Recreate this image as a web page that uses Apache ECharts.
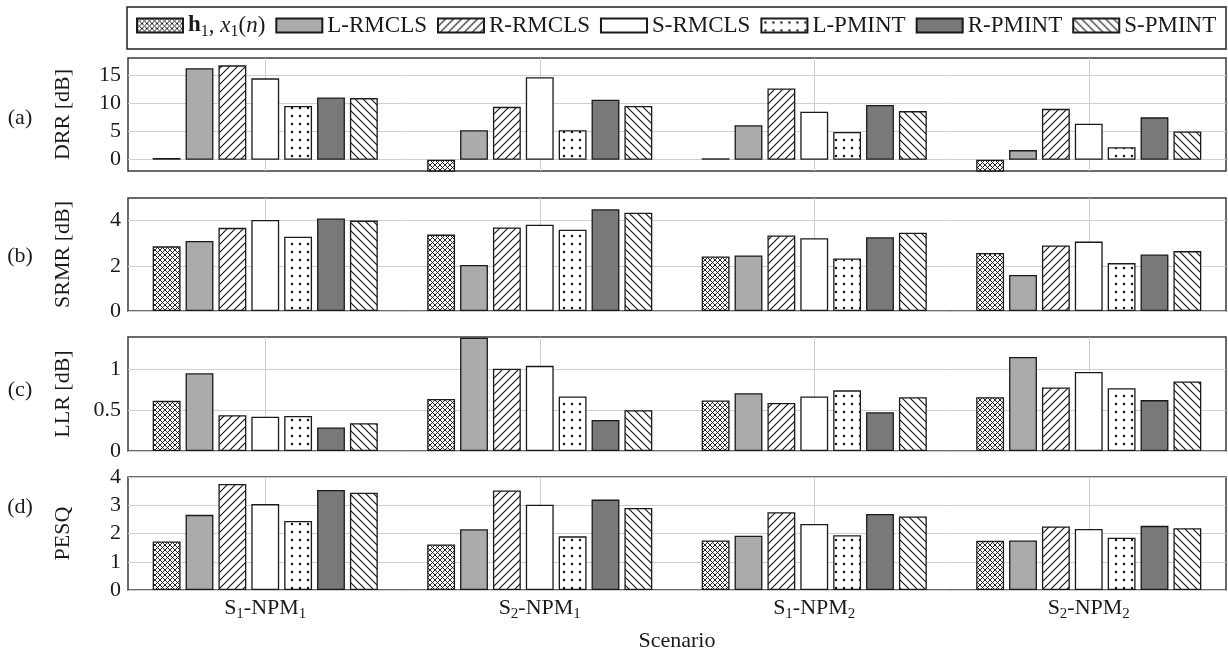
<!DOCTYPE html>
<html>
<head>
<meta charset="utf-8">
<script src="https://cdn.jsdelivr.net/npm/echarts@6/dist/echarts.min.js"></script>
<style>
  html, body { margin: 0; padding: 0; background: #fff; }
  #chart { width: 1228px; height: 656px; }
</style>
</head>
<body>
<div id="chart"></div>
<script>
// categories / methods
var categories = ['S1-NPM1', 'S2-NPM1', 'S1-NPM2', 'S2-NPM2'];
var methods = ['h1x1n', 'L-RMCLS', 'R-RMCLS', 'S-RMCLS', 'L-PMINT', 'R-PMINT', 'S-PMINT'];

// one row per method, one column per scenario
var drrValues = [
  [0.3, -2.4, 0.25, -2.4],
  [16.2, 5.2, 6.1, 1.7],
  [16.7, 9.35, 12.6, 9.0],
  [14.4, 14.6, 8.5, 6.35],
  [9.5, 5.2, 4.9, 2.2],
  [11.0, 10.6, 9.7, 7.5],
  [10.9, 9.5, 8.6, 5.0]
];
var srmrValues = [
  [2.86, 3.38, 2.41, 2.57],
  [3.1, 2.04, 2.46, 1.59],
  [3.68, 3.7, 3.34, 2.9],
  [4.03, 3.82, 3.22, 3.07],
  [3.29, 3.6, 2.32, 2.12],
  [4.09, 4.5, 3.26, 2.5],
  [4.0, 4.35, 3.46, 2.65]
];
var llrValues = [
  [0.616, 0.64, 0.62, 0.66],
  [0.955, 1.39, 0.71, 1.154],
  [0.44, 1.01, 0.59, 0.78],
  [0.42, 1.046, 0.67, 0.97],
  [0.43, 0.67, 0.745, 0.77],
  [0.29, 0.38, 0.475, 0.625],
  [0.34, 0.5, 0.66, 0.854]
];
var pesqValues = [
  [1.72, 1.61, 1.75, 1.74],
  [2.66, 2.15, 1.92, 1.75],
  [3.75, 3.52, 2.75, 2.25],
  [3.04, 3.02, 2.34, 2.16],
  [2.44, 1.9, 1.94, 1.85],
  [3.54, 3.2, 2.69, 2.27],
  [3.44, 2.9, 2.6, 2.19]
];

var panelNames = ['DRR [dB]', 'SRMR [dB]', 'LLR [dB]', 'PESQ'];
var panelTags = ['(a)', '(b)', '(c)', '(d)'];
var yTicks = [[0, 5, 10, 15], [0, 2, 4], [0, 0.5, 1], [0, 1, 2, 3, 4]];
var yRanges = [[-2, 18], [0, 5], [0, 1.4], [0, 4]];
var panelData = [drrValues, srmrValues, llrValues, pesqValues];

var FONT = 'Liberation Serif';
var INK = '#1a1a1a';

// hatch patterns (pgfplots style)
function makePattern(kind, bg) {
  var size = kind == 'cross' ? 5 : 8;
  var c = document.createElement('canvas');
  c.width = size; c.height = size;
  var ctx = c.getContext('2d');
  ctx.fillStyle = bg || '#fff';
  ctx.fillRect(0, 0, size, size);
  ctx.strokeStyle = '#111';
  ctx.fillStyle = '#111';
  ctx.lineWidth = kind == 'cross' ? 0.9 : 1.1;
  ctx.beginPath();
  if (kind == 'ne' || kind == 'cross') {
    ctx.moveTo(0, size); ctx.lineTo(size, 0);
    ctx.moveTo(-1, 1); ctx.lineTo(1, -1);
    ctx.moveTo(size - 1, size + 1); ctx.lineTo(size + 1, size - 1);
  }
  if (kind == 'nw' || kind == 'cross') {
    ctx.moveTo(0, 0); ctx.lineTo(size, size);
    ctx.moveTo(-1, size - 1); ctx.lineTo(1, size + 1);
    ctx.moveTo(size - 1, -1); ctx.lineTo(size + 1, 1);
  }
  ctx.stroke();
  if (kind == 'dots') {
    ctx.beginPath();
    ctx.arc(4, 4, 1.2, 0, Math.PI * 2);
    ctx.fill();
  }
  return { image: c, repeat: 'repeat' };
}

var fills = [
  makePattern('cross'),
  '#ababab',
  makePattern('ne'),
  '#ffffff',
  makePattern('dots'),
  '#797979',
  makePattern('nw')
];

function catLabel(v) {
  return '{t|S}{s|' + v.charAt(1) + '}{t|-NPM}{s|' + v.charAt(6) + '}';
}

var gridTops = [58, 198, 337, 477];
var gridHeights = [113, 113, 114, 113];

var grids = [], xAxes = [], yAxes = [], series = [], graphics = [];

for (var p = 0; p < 4; p++) {
  grids.push({
    left: 128, right: 2, top: gridTops[p], height: gridHeights[p],
    show: true, borderColor: '#3a3a3a', borderWidth: 1.5, backgroundColor: 'transparent'
  });
  xAxes.push({
    type: 'category', gridIndex: p, data: categories,
    axisLine: { show: false }, axisTick: { show: false },
    splitLine: { show: false },
    axisLabel: {
      show: p == 3, margin: 4, formatter: catLabel,
      rich: {
        t: { fontFamily: FONT, fontSize: 22, color: INK, lineHeight: 28 },
        s: { fontFamily: FONT, fontSize: 15, color: INK, verticalAlign: 'bottom' }
      }
    },
    name: p == 3 ? 'Scenario' : '', nameLocation: 'middle', nameGap: 40,
    nameTextStyle: { fontFamily: FONT, fontSize: 22, color: INK }
  });
  yAxes.push({
    type: 'value', gridIndex: p, min: yRanges[p][0], max: yRanges[p][1],
    axisLine: { show: false },
    axisTick: { show: false, customValues: yTicks[p] },
    axisLabel: { customValues: yTicks[p], margin: 7, fontFamily: FONT, fontSize: 22, color: INK },
    splitLine: { show: true, lineStyle: { color: '#cfcfcf', width: 1 } },
    name: panelNames[p], nameLocation: 'middle', nameGap: 54,
    nameTextStyle: { fontFamily: FONT, fontSize: 22, color: INK }
  });
  for (var m = 0; m < methods.length; m++) {
    series.push({
      type: 'bar', name: methods[m], xAxisIndex: p, yAxisIndex: p,
      data: panelData[p][m],
      barCategoryGap: '18%', barGap: '18%',
      itemStyle: { color: fills[m], borderColor: INK, borderWidth: 1.3 }
    });
  }
}

// vertical grid lines through the scenario centres
for (var q = 0; q < 4; q++) {
  xAxes.push({
    type: 'value', gridIndex: q, min: 0, max: 4, position: 'top',
    axisLine: { show: false },
    axisTick: { show: false, customValues: [0.5, 1.5, 2.5, 3.5] },
    axisLabel: { show: false, customValues: [0.5, 1.5, 2.5, 3.5] },
    splitLine: { show: true, lineStyle: { color: '#cfcfcf', width: 1 } }
  });
}

var tagY = [118, 256, 390, 507];
for (var k = 0; k < 4; k++) {
  graphics.push({
    type: 'text', x: 20, y: tagY[k],
    style: { text: panelTags[k], font: '22px "' + FONT + '"', fill: INK, textAlign: 'center', textVerticalAlign: 'middle' }
  });
}
// legend frame
graphics.push({
  type: 'rect', shape: { x: 127, y: 7, width: 1099, height: 42 },
  style: { fill: 'none', stroke: '#222', lineWidth: 1.5 }
});

var chart = echarts.init(document.getElementById('chart'));
chart.setOption({
  animation: false,
  backgroundColor: '#fff',
  legend: {
    data: methods, left: 136, top: 14, padding: 0,
    icon: 'rect', itemWidth: 46, itemHeight: 14, itemGap: 10,
    formatter: function (name) {
      if (name == 'h1x1n') return '{b|h}{s|1}{t|, }{i|x}{s|1}{t|(}{i|n}{t|)}';
      return '{t|' + name + '}';
    },
    textStyle: {
      fontFamily: FONT, fontSize: 23, color: INK,
      rich: {
        t: { fontFamily: FONT, fontSize: 23, color: INK, lineHeight: 28 },
        b: { fontFamily: FONT, fontSize: 23, fontWeight: 'bold', color: INK, lineHeight: 28 },
        i: { fontFamily: FONT, fontSize: 23, fontStyle: 'italic', color: INK, lineHeight: 28 },
        s: { fontFamily: FONT, fontSize: 16, color: INK, verticalAlign: 'bottom' }
      }
    }
  },
  grid: grids,
  xAxis: xAxes,
  yAxis: yAxes,
  series: series,
  graphic: graphics
});
</script>
</body>
</html>
